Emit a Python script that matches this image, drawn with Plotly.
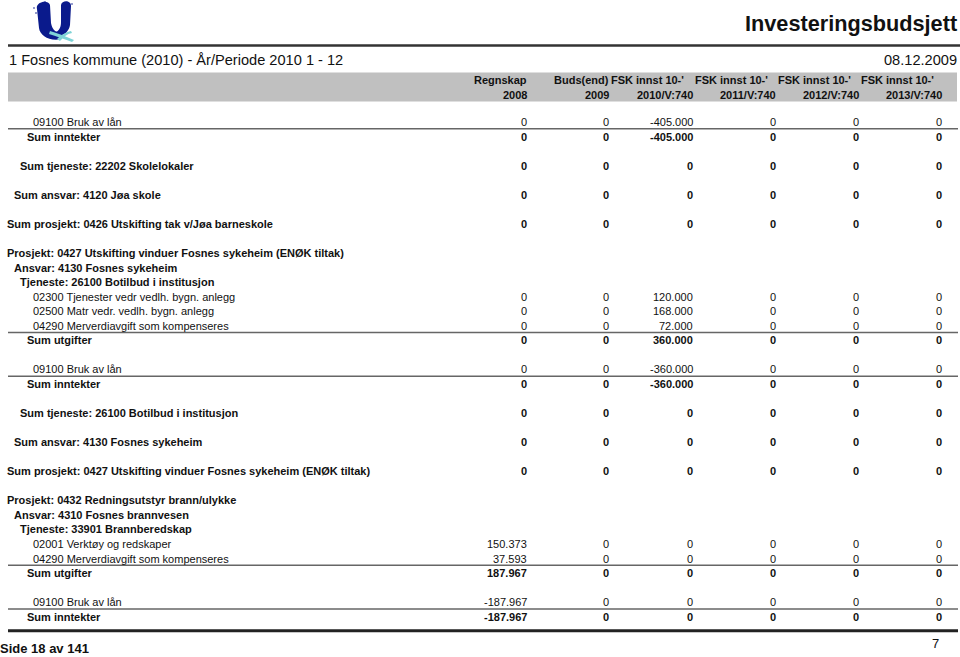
import plotly.graph_objects as go

N = None

# ---------------- data ----------------
header_top = ["Regnskap", "Buds(end)", "FSK innst 10-'", "FSK innst 10-'", "FSK innst 10-'", "FSK innst 10-'"]
header_bottom = ["2008", "2009", "2010/V:740", "2011/V:740", "2012/V:740", "2013/V:740"]

row_labels = [
    "09100 Bruk av lån", "Sum inntekter", N,
    "Sum tjeneste: 22202 Skolelokaler", N,
    "Sum ansvar: 4120 Jøa skole", N,
    "Sum prosjekt: 0426 Utskifting tak v/Jøa barneskole", N,
    "Prosjekt: 0427 Utskifting vinduer Fosnes sykeheim (ENØK tiltak)",
    "Ansvar: 4130 Fosnes sykeheim",
    "Tjeneste: 26100 Botilbud i institusjon",
    "02300 Tjenester vedr vedlh. bygn. anlegg",
    "02500 Matr vedr. vedlh. bygn. anlegg",
    "04290 Merverdiavgift som kompenseres",
    "Sum utgifter", N,
    "09100 Bruk av lån", "Sum inntekter", N,
    "Sum tjeneste: 26100 Botilbud i institusjon", N,
    "Sum ansvar: 4130 Fosnes sykeheim", N,
    "Sum prosjekt: 0427 Utskifting vinduer Fosnes sykeheim (ENØK tiltak)", N,
    "Prosjekt: 0432 Redningsutstyr brann/ulykke",
    "Ansvar: 4310 Fosnes brannvesen",
    "Tjeneste: 33901 Brannberedskap",
    "02001 Verktøy og redskaper",
    "04290 Merverdiavgift som kompenseres",
    "Sum utgifter", N,
    "09100 Bruk av lån", "Sum inntekter",
]
# row kind: d = detail line, s = sum utgifter/inntekter, t = tjeneste, a = ansvar, p = prosjekt, b = blank
row_kinds = ["d", "s", "b", "t", "b", "a", "b", "p", "b",
             "p", "a", "t", "d", "d", "d", "s", "b", "d", "s", "b",
             "t", "b", "a", "b", "p", "b",
             "p", "a", "t", "d", "d", "s", "b", "d", "s"]

regnskap_2008 = [0, 0, N, 0, N, 0, N, 0, N, N, N, N, 0, 0, 0, 0, N, 0, 0, N,
                 0, N, 0, N, 0, N, N, N, N, 150373, 37593, 187967, N, -187967, -187967]
buds_2009 = [0, 0, N, 0, N, 0, N, 0, N, N, N, N, 0, 0, 0, 0, N, 0, 0, N,
             0, N, 0, N, 0, N, N, N, N, 0, 0, 0, N, 0, 0]
fsk_2010 = [-405000, -405000, N, 0, N, 0, N, 0, N, N, N, N, 120000, 168000, 72000, 360000, N,
            -360000, -360000, N, 0, N, 0, N, 0, N, N, N, N, 0, 0, 0, N, 0, 0]
fsk_2011 = [0, 0, N, 0, N, 0, N, 0, N, N, N, N, 0, 0, 0, 0, N, 0, 0, N,
            0, N, 0, N, 0, N, N, N, N, 0, 0, 0, N, 0, 0]
fsk_2012 = [0, 0, N, 0, N, 0, N, 0, N, N, N, N, 0, 0, 0, 0, N, 0, 0, N,
            0, N, 0, N, 0, N, N, N, N, 0, 0, 0, N, 0, 0]
fsk_2013 = [0, 0, N, 0, N, 0, N, 0, N, N, N, N, 0, 0, 0, 0, N, 0, 0, N,
            0, N, 0, N, 0, N, N, N, N, 0, 0, 0, N, 0, 0]

columns = [regnskap_2008, buds_2009, fsk_2010, fsk_2011, fsk_2012, fsk_2013]

title_text = "Investeringsbudsjett"
subtitle_text = "1 Fosnes kommune (2010) - År/Periode 2010 1 - 12"
date_text = "08.12.2009"
footer_left = "Side 18 av 141"
footer_right = "7"

# ---------------- layout constants ----------------
FONT = "Liberation Sans, Arial, Helvetica, sans-serif"
W, H = 960, 657
col_right = [527, 609, 693, 776, 859, 942]
indent = {"d": 33, "s": 27, "t": 20, "a": 14, "p": 7}
row_y0 = 122.0
row_step = 14.55


def fmt(v):
    if v == 0:
        return "0"
    s = f"{abs(v):,}".replace(",", ".")
    return ("-" if v < 0 else "") + s


fig = go.Figure()
fig.add_trace(go.Scatter(x=[0, W], y=[0, H], mode="markers",
                         marker=dict(opacity=0), hoverinfo="skip", showlegend=False))

annotations = []
shapes = []


def txt(x, y, s, size=11, bold=False, anchor="left", color="#111"):
    annotations.append(dict(
        x=x, y=y, xref="x", yref="y", text=("<b>%s</b>" % s) if bold else s,
        showarrow=False, xanchor=anchor, yanchor="middle",
        font=dict(family=FONT, size=size, color=color), borderpad=0, borderwidth=0))


def hline(y, x0=8, x1=958, width=1.5, color="#666"):
    shapes.append(dict(type="line", xref="x", yref="y", x0=x0, x1=x1, y0=y, y1=y,
                       line=dict(color=color, width=width)))


# logo
logo_paths = [
    ("M 37 9 C 35 2 48 -1 50 5 L 51 23 C 52 29 55 32 60 33 L 62 39 C 50 42 40 36 39 28 Z", "#0a1a8c"),
    ("M 61 5 C 62 0 71 0 71 6 L 70 25 C 69 31 65 35 58 36 L 56 32 C 60 30 61 26 61 22 Z", "#0a1a8c"),
    ("M 50 31 C 57 33 65 36 74 40 L 72 42 C 64 39 56 36 49 34 Z", "#7fd3d6"),
    ("M 57 39 C 61 35 66 32 71 31 L 72 33 C 67 34 63 37 60 41 Z", "#7fd3d6"),
]
for p, c in logo_paths:
    shapes.append(dict(type="path", xref="x", yref="y", path=p,
                       fillcolor=c, line=dict(width=0)))
for (cx, cy) in [(34, 8), (36, 13), (72, 4), (45, 2)]:
    shapes.append(dict(type="circle", xref="x", yref="y", x0=cx - 0.8, x1=cx + 0.8,
                       y0=cy - 0.8, y1=cy + 0.8, fillcolor="#0a1a8c", line=dict(width=0)))

# page header
txt(957, 23, title_text, size=21.7, bold=True, anchor="right", color="#111")
hline(45.5, 8, 960, width=2.5, color="#333")
txt(9, 59.5, subtitle_text, size=14.6)
txt(957, 60, date_text, size=14.6, anchor="right")

# column header band
shapes.append(dict(type="rect", xref="x", yref="y", x0=8, x1=957, y0=72.5, y1=101.5,
                   fillcolor="#c0c0c0", line=dict(width=0), layer="below"))
for i in range(6):
    if i >= 2:
        txt(col_right[i - 1] + 2, 80, header_top[i], bold=True, anchor="left")
    else:
        txt(col_right[i], 80, header_top[i], bold=True, anchor="right")
    txt(col_right[i], 95, header_bottom[i], bold=True, anchor="right")

# body rows
for r, (label, kind) in enumerate(zip(row_labels, row_kinds)):
    if kind == "b":
        continue
    y = row_y0 + r * row_step
    bold = kind != "d"
    txt(indent[kind], y, label, bold=bold)
    for c, col in enumerate(columns):
        v = col[r]
        if v is not None:
            txt(col_right[c], y, fmt(v), bold=bold, anchor="right")
    if kind == "s":
        hline(y - row_step / 2 - 0.5)

# bottom rule and footer
hline(row_y0 + len(row_labels) * row_step - 0.5, 8, 958, width=3, color="#222")
txt(0, 648.5, footer_left, size=13, bold=True)
txt(939, 643, footer_right, size=13, anchor="right")

fig.update_layout(
    width=W, height=H,
    margin=dict(l=0, r=0, t=0, b=0),
    paper_bgcolor="white", plot_bgcolor="white",
    xaxis=dict(range=[0, W], visible=False, fixedrange=True),
    yaxis=dict(range=[H, 0], visible=False, fixedrange=True),
    annotations=annotations, shapes=shapes, showlegend=False,
)
fig.write_html(
    "out.html",
    config={"displayModeBar": False},
    post_script="document.body.style.margin='0';document.body.style.overflow='hidden';",
)
